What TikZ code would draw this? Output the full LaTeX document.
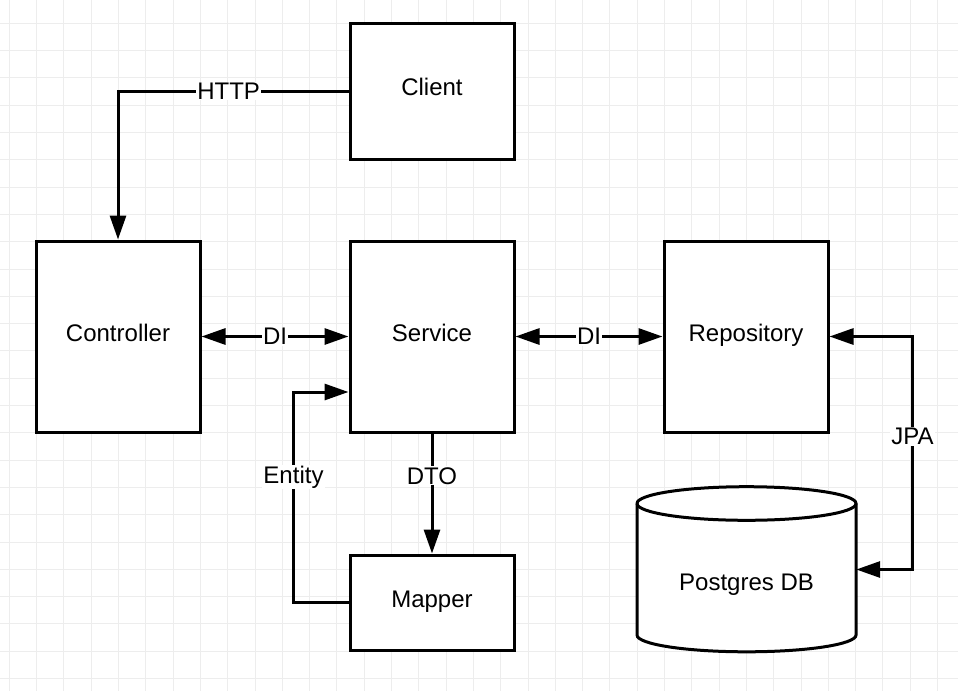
\documentclass[tikz,border=0pt]{standalone}
\usepackage{fontspec}
\setmainfont{Liberation Sans}
\usetikzlibrary{arrows.meta,positioning}

\begin{document}
\begin{tikzpicture}
    [
      x=1pt, y=-1pt,
      font=\fontsize{24}{28}\selectfont,
      grid-line/.style={draw=black!7, line width=1pt},
      component/.style={rectangle, draw, line width=3pt, fill=white, minimum width=164pt, minimum height=191pt, text height=17pt, text depth=8pt},
      post/.style={-{Triangle[length=24pt,width=16pt]}, line width=3pt},
      both/.style={{Triangle[length=24pt,width=16pt]}-{Triangle[length=24pt,width=16pt]}, line width=3pt},
      tag/.style={fill=white, inner sep=1pt},
    ]

    \useasboundingbox [fill=white] (0,0) rectangle (958,691);
    \foreach \i in {0,...,34}
      \draw [grid-line] (9.3+27.3*\i,0) -- (9.3+27.3*\i,691);
    \foreach \j in {0,...,24}
      \draw [grid-line] (0,23.3+27.3*\j) -- (958,23.3+27.3*\j);

    \node (client) [component, minimum height=136pt] at (432,91) {Client};
    \node (controller) [component] at (118,336.5) {Controller};
    \node (service) [component] at (432,336.5) {Service};
    \node (repository) [component] at (746,336.5) {Repository};
    \node (mapper) [component, minimum height=95pt] at (432,602.5) {Mapper};

    \filldraw [fill=white, line width=3pt]
      (637,503.5) -- (637,635) arc[start angle=180, end angle=360, x radius=109.5pt, y radius=16.8pt]
      -- (856,503.5) arc[start angle=0, end angle=180, x radius=109.5pt, y radius=16.8pt] -- cycle;
    \draw [line width=3pt]
      (637,503.5) arc[start angle=180, end angle=360, x radius=109.5pt, y radius=16.8pt];
    \node (postgres) [minimum width=219pt, minimum height=165pt] at (746.5,569.5) {};
    \node (postgres-text) [text height=17pt, text depth=8pt] at (746.5,586) {Postgres DB};

    \path
    (controller) edge [both] node [tag] {DI} (service)
    (service) edge [both] node [tag] {DI} (repository)
    (service) edge [post] node [tag, pos=0.354] {DTO} (mapper)
    ;

    \draw [post] (client.west) -| node [tag, pos=0.26] {HTTP} (controller.north);
    \draw [both] (repository.east) -- ++(83,0) |- node [tag, pos=0.214] {JPA} (postgres.east);
    \draw [post] (mapper.west) -- ++(-55,0) |- node [tag, pos=0.298] {Entity} ([yshift=-55.5pt]service.west);

  \end{tikzpicture}
\end{document}
